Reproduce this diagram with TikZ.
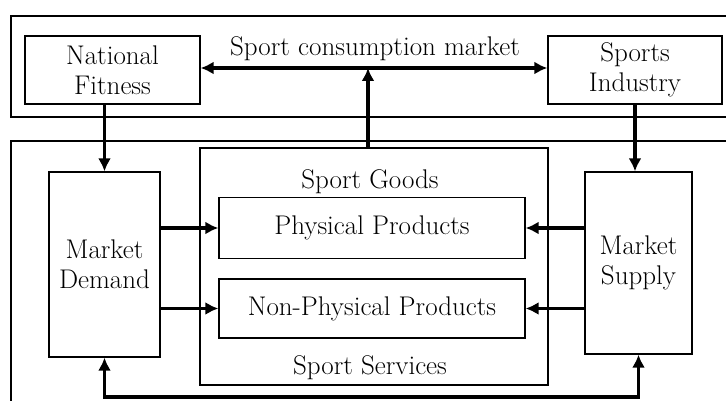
\documentclass[tikz,border=0pt]{standalone}
\usepackage{tikz}
\usetikzlibrary{arrows.meta}
\tikzset{
  block/.style = {shape=rectangle, draw, line width=1.3pt, align=center, inner sep=0pt},
  group/.style = {draw, line width=1.3pt},
  link/.style  = {draw, line width=3.2pt, -{Latex[length=13pt,width=13pt]}}
}

\begin{document}
\begin{tikzpicture}
  [
    x                 = 1pt,
    y                 = -1pt,
    every node/.style = {font=\fontsize{27}{30}\selectfont}
  ]
  \clip (0,0) rectangle (726,401);
  % frames
  \draw [group] (11,16) rectangle (760,117);
  \draw [group] (11,141) rectangle (760,430);
  % upper row
  \node [block, minimum width=175pt, minimum height=68pt] (fitness) at (112.5,70) {National\\Fitness};
  \node [block, minimum width=174pt, minimum height=68pt] (industry) at (635,70) {Sports\\Industry};
  \node (market) at (375,49) {Sport consumption market};
  \coordinate (hub) at (368,68);
  % lower row
  \node [block, minimum width=348pt, minimum height=237pt] (goods) at (374,266.5) {};
  \node (goodslabel) at (370,182) {Sport Goods};
  \node (serviceslabel) at (370,368) {Sport Services};
  \node [block, minimum width=306pt, minimum height=61pt] (physical) at (372,228) {Physical Products};
  \node [block, minimum width=306pt, minimum height=59pt] (nonphysical) at (372,308.5) {Non-Physical Products};
  \node [block, minimum width=111pt, minimum height=185pt] (demand) at (104.5,264.5) {Market\\Demand};
  \node [block, minimum width=107pt, minimum height=182pt] (supply) at (638.5,263) {Market\\Supply};
  \coordinate (base) at (0,397);
  % links
  \draw [link, {Latex[length=13pt,width=13pt]}-{Latex[length=13pt,width=13pt]}] (fitness.east |- hub) -- (industry.west |- hub);
  \draw [link] (hub |- goods.north) -- (hub);
  \draw [link] (fitness.south -| demand.north) -- (demand.north);
  \draw [link] (industry.south) -- (industry.south |- supply.north);
  \draw [link] (demand.east |- physical.west) -- (physical.west);
  \draw [link] (demand.east |- nonphysical.west) -- (nonphysical.west);
  \draw [link] (supply.west |- physical.east) -- (physical.east);
  \draw [link] (supply.west |- nonphysical.east) -- (nonphysical.east);
  \draw [link, {Latex[length=13pt,width=13pt]}-{Latex[length=13pt,width=13pt]}] (demand.south) -- (demand.south |- base) -| (supply.south);
\end{tikzpicture}
\end{document}
